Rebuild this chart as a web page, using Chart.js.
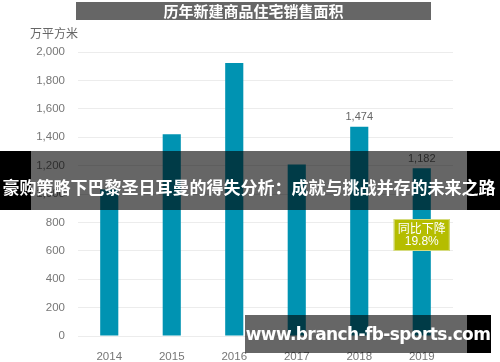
<!DOCTYPE html>
<html><head><meta charset="utf-8">
<script src="https://cdn.jsdelivr.net/npm/chart.js@4/dist/chart.umd.min.js"></script>
<style>
html,body{margin:0;padding:0;background:#fff;}
#wrap{position:relative;width:500px;height:362px;overflow:hidden;font-family:"Liberation Sans",Arial,sans-serif;}
canvas{position:absolute;left:0;top:0;}
.title{position:absolute;left:76px;top:2px;width:355px;height:18px;background:#666;color:#fff;font:bold 15px "Noto Sans CJK SC",sans-serif;text-align:center;line-height:18px;}
.unit{position:absolute;left:30px;top:24px;font:12px "Noto Sans CJK SC",sans-serif;color:#666;}
.band{position:absolute;left:0;top:151px;width:500px;height:59px;background:linear-gradient(to right,#000 0,#000 31px,rgba(0,0,0,0.6) 31px,rgba(0,0,0,0.6) 467px,#000 467px);}
.bandtxt{position:absolute;left:0;top:174px;width:498px;height:22px;line-height:22px;text-align:center;white-space:nowrap;color:#fff;font:bold 17px "Noto Sans CJK SC",sans-serif;}
.wm{position:absolute;left:245px;top:315px;width:246px;height:38px;background:linear-gradient(to right,rgba(0,0,0,0.6) 0,rgba(0,0,0,0.6) 222px,#000 222px);color:#fff;font:bold 17px "DejaVu Sans",sans-serif;line-height:38px;text-align:center;white-space:nowrap;letter-spacing:-0.6px;}
</style></head>
<body><div id="wrap">
<canvas id="c" width="500" height="362"></canvas>
<div class="title">历年新建商品住宅销售面积</div>
<div class="unit">万平方米</div>
<div class="band"></div>
<div class="bandtxt">豪购策略下巴黎圣日耳曼的得失分析：成就与挑战并存的未来之路</div>
<div class="wm">www.branch-fb-sports.com</div>
</div>
<script>
const years = ["2014","2015","2016","2017","2018","2019"];
const salesArea = [1032, 1420, 1922, 1208, 1474, 1182];
const labeledIdx = [4, 5];
const yTicks = [0,200,400,600,800,1000,1200,1400,1600,1800,2000];
const noteLines = ["同比下降", "19.8%"];

const fmt = v => v.toLocaleString("en-US");

const extras = {
  id: "extras",
  afterDatasetsDraw(chart) {
    const ctx = chart.ctx;
    const meta = chart.getDatasetMeta(0);
    ctx.save();
    ctx.fillStyle = "#666";
    ctx.font = '11px "Liberation Sans", Arial, sans-serif';
    ctx.textAlign = "center";
    ctx.textBaseline = "bottom";
    labeledIdx.forEach(i => {
      const el = meta.data[i];
      ctx.fillText(fmt(salesArea[i]), el.x, el.y - 4);
    });
    const el = meta.data[salesArea.length - 1];
    const w = 56, h = 32, top = 219;
    ctx.fillStyle = "#b5bd00";
    ctx.fillRect(el.x - w/2, top, w, h);
    ctx.strokeStyle = "#d6dc80";
    ctx.lineWidth = 1;
    ctx.strokeRect(el.x - w/2 + 0.5, top + 0.5, w - 1, h - 1);
    ctx.fillStyle = "#fff";
    ctx.textBaseline = "middle";
    ctx.font = '12px "Noto Sans CJK SC", sans-serif';
    ctx.fillText(noteLines[0], el.x, top + 9);
    ctx.font = '12px "Liberation Sans", Arial, sans-serif';
    ctx.fillText(noteLines[1], el.x, top + 23);
    ctx.restore();
  }
};

new Chart(document.getElementById("c"), {
  type: "bar",
  data: {
    labels: years,
    datasets: [{
      data: salesArea,
      backgroundColor: "#0093b2",
      borderWidth: 0,
      barPercentage: 0.29,
      categoryPercentage: 1
    }]
  },
  options: {
    responsive: false,
    animation: false,
    devicePixelRatio: 1,
    layout: { padding: { left: 0, right: 47, top: 52, bottom: 0 } },
    plugins: { legend: { display: false }, tooltip: { enabled: false } },
    scales: {
      x: {
        grid: { display: false },
        border: { display: false },
        ticks: { color: "#777", font: { size: 11.5, family: '"Liberation Sans", Arial, sans-serif' }, padding: 6 },
        afterFit(s) { s.height = 26; }
      },
      y: {
        min: 0, max: 2000,
        afterBuildTicks(s) { s.ticks = yTicks.map(v => ({ value: v })); },
        grid: { color: "#ececec", drawTicks: false },
        border: { display: false },
        ticks: { color: "#777", font: { size: 11.5, family: '"Liberation Sans", Arial, sans-serif' }, padding: 13, callback: v => fmt(v) },
        afterFit(s) { s.width = 78; }
      }
    }
  },
  plugins: [extras]
});
</script>
</body></html>
